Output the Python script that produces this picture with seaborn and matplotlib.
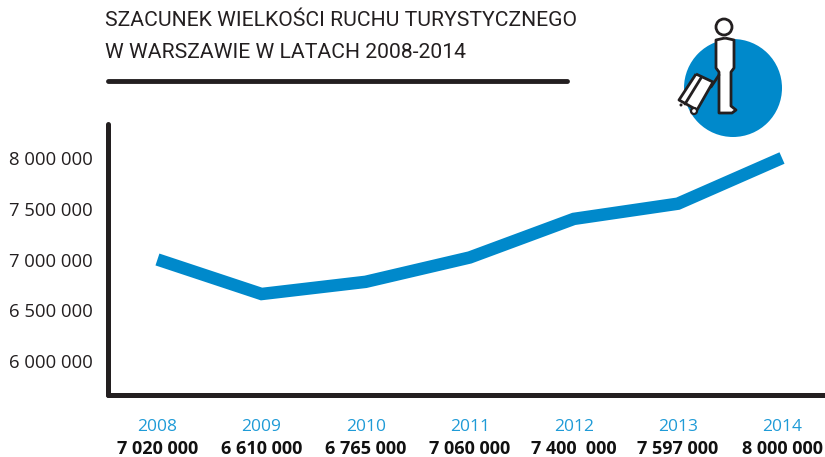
import numpy as np
import pandas as pd
import matplotlib
matplotlib.use('Agg')
import matplotlib.pyplot as plt
from matplotlib.patches import Circle, PathPatch
from matplotlib.path import Path
import seaborn as sns

years = [2008, 2009, 2010, 2011, 2012, 2013, 2014]
# plotted line heights (they differ a little from the printed figures)
line_values = [7000000, 6660000, 6780000, 7020000, 7400000, 7550000, 8000000]
value_labels = ['7 020 000', '6 610 000', '6 765 000', '7 060 000', '7 400  000', '7 597 000', '8 000 000']
y_ticks = [6000000, 6500000, 7000000, 7500000, 8000000]
y_labels = ['6 000 000', '6 500 000', '7 000 000', '7 500 000', '8 000 000']
title_lines = ['SZACUNEK WIELKOŚCI RUCHU TURYSTYCZNEGO', 'W WARSZAWIE W LATACH 2008-2014']

BLUE = '#0089CB'
YEAR_BLUE = '#1F9BD7'
DARK = '#231F20'

sns.set_style('white')
plt.rcParams['font.family'] = ['Open Sans', 'DejaVu Sans']

W, H = 825, 457
fig = plt.figure(figsize=(W / 100, H / 100), dpi=100)

# main axes, placed in pixels: left spine x=108, baseline y=395, top y=124
ax = fig.add_axes([108 / W, 1 - 395 / H, (W - 108) / W, (395 - 124) / H])
df = pd.DataFrame({'year': years, 'value': line_values})
sns.lineplot(data=df, x='year', y='value', ax=ax, color=BLUE, linewidth=9,
             solid_capstyle='butt', solid_joinstyle='miter', clip_on=False)

ax.set_xlim(2007.525, 2014.413)
ax.set_ylim(5665000, 8335000)
ax.set_xlabel('')
ax.set_ylabel('')
ax.set_xticks(years)
ax.set_xticklabels(years, color=YEAR_BLUE, fontsize=12.5)
ax.set_yticks(y_ticks)
ax.set_yticklabels(y_labels, color=DARK, fontsize=13.3)
ax.tick_params(axis='x', length=0, pad=17)
ax.tick_params(axis='y', length=0, pad=11)
ax.patch.set_alpha(0)

sns.despine(ax=ax)
for side in ['left', 'bottom']:
    ax.spines[side].set_linewidth(3.6)
    ax.spines[side].set_color(DARK)
    ax.spines[side].set_capstyle('round')

# bold figures under the years
for yr, lab in zip(years, value_labels):
    ax.annotate(lab, xy=(yr, 0), xycoords=('data', 'axes fraction'), xytext=(0, -54 * 0.72),
                textcoords='offset points', ha='center', va='center',
                fontsize=13, fontweight='bold', color='#111111')

# pixel overlay for title, rule and pictogram
ov = fig.add_axes([0, 0, 1, 1], zorder=5)
ov.set_xlim(0, W)
ov.set_ylim(H, 0)
ov.axis('off')

ov.text(105, 20, title_lines[0], fontsize=15.2, family=['Roboto', 'DejaVu Sans'], color=DARK, va='center', ha='left')
ov.text(105, 53, title_lines[1], fontsize=15.2, family=['Roboto', 'DejaVu Sans'], color=DARK, va='center', ha='left')
ov.plot([108, 567], [81, 81], color=DARK, lw=3.5, solid_capstyle='round')

ov.add_patch(Circle((733, 88), 49, color=BLUE, lw=0))
ov.add_patch(Circle((724, 27), 8, fc='white', ec=DARK, lw=2))

body_pts = [(725, 38), (716, 40), (716, 68), (719, 72), (719, 113), (732, 113),
            (736, 110), (731, 106), (731, 72), (734, 68), (734, 40), (725, 38)]
ov.add_patch(PathPatch(Path(body_pts), fc='white', ec=DARK, lw=2, joinstyle='round'))

case = [(696, 74), (713, 82), (697, 110), (679, 100), (696, 74)]
ov.add_patch(PathPatch(Path(case), fc='white', ec=DARK, lw=2, joinstyle='round'))
ov.plot([711, 719], [87, 75], color=DARK, lw=2)
ov.plot([701, 685], [78, 104], color=DARK, lw=2)
ov.add_patch(Circle((694, 111), 3, fc='white', ec=DARK, lw=1.6))
ov.add_patch(Circle((681, 105), 1.5, fc=DARK, ec=DARK, lw=0))

fig.savefig('out.png', dpi=100)
